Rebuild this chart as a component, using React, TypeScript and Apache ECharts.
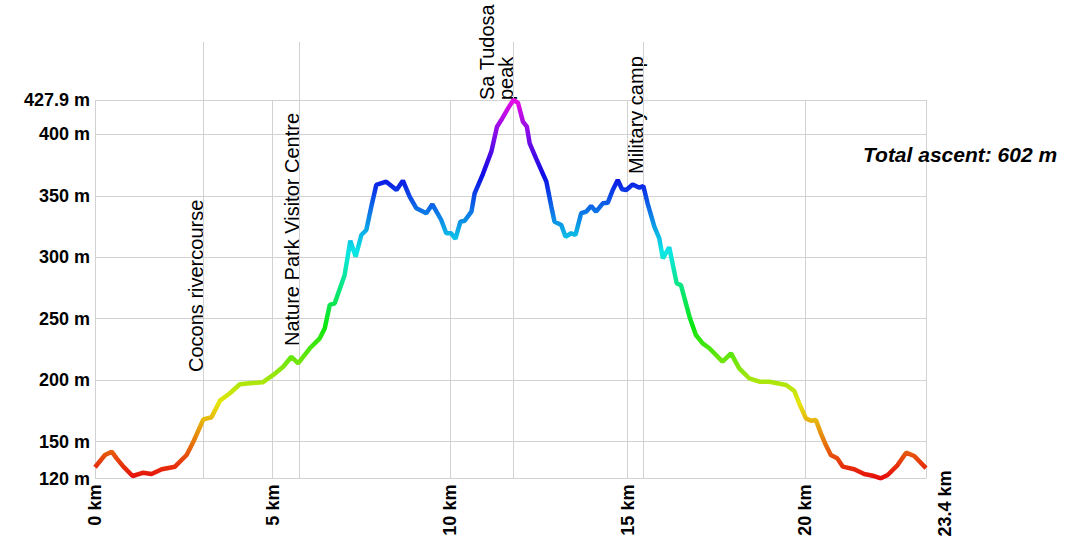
import React, { useEffect, useRef } from "react";
import * as echarts from "echarts";

// Distance along the route (km)
const kmValues = [
  0.0, 0.28, 0.47, 0.61, 0.8, 1.06, 1.36, 1.59, 1.88, 2.25, 2.58, 2.77, 3.05, 3.28, 3.52, 3.8, 4.08, 4.36, 4.72,
  5.02, 5.3, 5.53, 5.72, 6.05, 6.33, 6.47, 6.61, 6.75, 7.03, 7.19, 7.34, 7.5, 7.64, 7.78, 7.92, 8.2, 8.49, 8.67,
  8.86, 9.05, 9.33, 9.5, 9.75, 9.89, 10.03, 10.15, 10.29, 10.41, 10.6, 10.69, 10.92, 11.16, 11.32, 11.44, 11.63,
  11.78, 11.91, 12.05, 12.16, 12.24, 12.42, 12.71, 12.85, 12.94, 13.13, 13.25, 13.41, 13.53, 13.69, 13.83, 13.97,
  14.11, 14.3, 14.44, 14.58, 14.72, 14.84, 14.96, 15.14, 15.33, 15.44, 15.56, 15.75, 15.89, 15.99, 16.17, 16.38,
  16.5, 16.74, 16.92, 17.11, 17.3, 17.67, 17.91, 18.14, 18.42, 18.71, 18.99, 19.46, 19.69, 19.83, 20.02, 20.16,
  20.3, 20.44, 20.58, 20.72, 20.9, 21.06, 21.38, 21.66, 21.94, 22.13, 22.32, 22.6, 22.84, 23.07, 23.4,
];

// Elevation (m)
const elevationValues = [
  129.2, 139.2, 141.9, 136.5, 129.7, 122.1, 124.8, 123.7, 127.6, 129.7, 139.2, 150.0, 168.2, 169.9, 183.4, 189.4,
  196.7, 197.5, 198.3, 204.3, 211.0, 219.1, 213.8, 226.0, 234.1, 242.2, 261.2, 262.6, 285.6, 313.5, 300.5, 318.1,
  322.2, 341.1, 358.8, 361.5, 354.7, 362.3, 349.3, 339.8, 335.8, 343.1, 330.3, 319.5, 319.5, 314.9, 328.9, 329.7,
  337.1, 352.0, 367.5, 385.9, 406.2, 411.6, 421.1, 427.9, 425.7, 410.3, 406.2, 392.7, 380.5, 361.5, 341.1, 328.9,
  326.2, 316.7, 319.5, 318.1, 335.8, 337.1, 341.7, 337.1, 343.9, 344.4, 354.7, 362.8, 355.3, 354.7, 359.2, 356.6,
  358.0, 343.9, 324.9, 315.4, 299.2, 308.1, 278.8, 277.4, 251.7, 236.8, 230.0, 226.0, 215.1, 221.9, 209.7, 201.6,
  198.8, 198.8, 196.1, 191.4, 181.2, 169.0, 167.1, 167.7, 156.8, 147.3, 139.2, 136.5, 129.7, 127.6, 123.7, 122.1,
  120.2, 122.9, 131.0, 141.1, 138.4, 128.5,
];

const kmTickLabels = [0, 5, 10, 15, 20, 23.4];
const elevationTickLabels = [120, 150, 200, 250, 300, 350, 400, 427.9];

const waypointNames = ["Cocons rivercourse", "Nature Park Visitor Centre", "Sa Tudosa\npeak", "Military camp"];
const waypointKm = [3.05, 5.76, 11.79, 15.44];
const waypointLabelElevation = [206.7, 227.8, 427.9, 367.7];

const totalAscent = 602;

const ELEV_MIN = 120;
const ELEV_MAX = 427.9;
const KM_MAX = 23.4;

const hueColors = [
  "#e60c0c", "#e67b0c", "#e6e60c", "#7be60c", "#0ce60c", "#0ce67b",
  "#0ce6e6", "#0c7be6", "#0c0ce6", "#7b0ce6", "#e60ce6",
];

const FONT = "'Liberation Sans', Arial, sans-serif";

export default function App() {
  const ref = useRef<HTMLDivElement>(null);

  useEffect(() => {
    document.body.style.margin = "0";
    if (!ref.current) return;
    const chart = echarts.init(ref.current, null, { renderer: "svg" });

    const gridTop = 42;
    const plotTop = 100;
    const gridBottom = 61.4;
    const plotBottomPx = 540 - gridBottom;
    const yMax = ELEV_MAX + ((plotTop - gridTop) * (ELEV_MAX - ELEV_MIN)) / (plotBottomPx - plotTop);

    const profile = kmValues.map((k, i) => [k, elevationValues[i]]);

    const gridColor = "#d2d2d2";

    const vGrid = kmTickLabels.map((k) => [
      { coord: [k, ELEV_MIN] },
      { coord: [k, ELEV_MAX] },
    ]);
    const wpLines = waypointKm.map((k) => [
      { coord: [k, ELEV_MIN] },
      { coord: [k, yMax] },
    ]);

    // the last distance label is drawn separately (shifted to stay inside the page)
    const axisKmLabels = kmTickLabels.filter((k) => k < KM_MAX);

    chart.setOption({
      animation: false,
      backgroundColor: "#ffffff",
      textStyle: { fontFamily: FONT },
      title: {
        text: `Total ascent: ${totalAscent} m`,
        left: 863,
        top: 144,
        padding: 0,
        textStyle: {
          fontFamily: FONT,
          fontSize: 21,
          fontWeight: "bold",
          fontStyle: "italic",
          color: "#000",
        },
      },
      grid: {
        left: 95,
        right: 162,
        top: gridTop,
        bottom: gridBottom,
        containLabel: false,
        outerBoundsMode: "none",
      },
      xAxis: {
        type: "value",
        min: 0,
        max: KM_MAX,
        axisLine: { show: false },
        axisTick: { show: false, customValues: axisKmLabels },
        splitLine: { show: false },
        axisLabel: {
          customValues: axisKmLabels,
          rotate: 90,
          margin: 6,
          formatter: (v: number) => `${v} km`,
          fontFamily: FONT,
          fontSize: 18,
          fontWeight: "bold",
          color: "#000",
        },
      },
      yAxis: {
        type: "value",
        min: ELEV_MIN,
        max: yMax,
        axisLine: { show: false },
        axisTick: { show: false, customValues: elevationTickLabels },
        splitLine: { show: true, lineStyle: { color: gridColor, width: 1 } },
        axisLabel: {
          customValues: elevationTickLabels,
          margin: 5,
          formatter: (v: number) => `${v} m`,
          fontFamily: FONT,
          fontSize: 18,
          fontWeight: "bold",
          color: "#000",
        },
      },
      visualMap: {
        show: false,
        type: "continuous",
        seriesIndex: 1,
        dimension: 1,
        min: ELEV_MIN,
        max: ELEV_MAX,
        inRange: { color: hueColors },
      },
      series: [
        {
          type: "line",
          data: [],
          silent: true,
          z: 1,
          markLine: {
            silent: true,
            symbol: ["none", "none"],
            label: { show: false },
            lineStyle: { color: gridColor, width: 1, type: "solid" },
            emphasis: { disabled: true },
            data: [...vGrid, ...wpLines],
          },
        },
        {
          type: "line",
          data: profile,
          showSymbol: false,
          symbol: "none",
          z: 5,
          lineStyle: { width: 4.5 },
          silent: true,
        },
      ],
    });

    const graphics: any[] = waypointNames.map((name, i) => {
      const p = chart.convertToPixel({ xAxisIndex: 0, yAxisIndex: 0 }, [
        waypointKm[i],
        waypointLabelElevation[i],
      ]) as number[];
      return {
        type: "text",
        x: p[0] + 2,
        y: p[1],
        rotation: Math.PI / 2,
        silent: true,
        style: {
          text: name,
          font: `20px ${FONT}`,
          fill: "#000",
          align: "left",
          verticalAlign: "bottom",
          lineHeight: 19,
        },
      };
    });

    const end = chart.convertToPixel({ xAxisIndex: 0, yAxisIndex: 0 }, [KM_MAX, ELEV_MIN]) as number[];
    graphics.push({
      type: "text",
      x: end[0] + 19,
      y: end[1] + 58,
      rotation: Math.PI / 2,
      silent: true,
      style: {
        text: `${KM_MAX} km`,
        font: `bold 18px ${FONT}`,
        fill: "#000",
        align: "left",
        verticalAlign: "middle",
      },
    });

    chart.setOption({ graphic: graphics });

    return () => {
      chart.dispose();
    };
  }, []);

  return <div ref={ref} style={{ width: 1088, height: 540 }} />;
}
